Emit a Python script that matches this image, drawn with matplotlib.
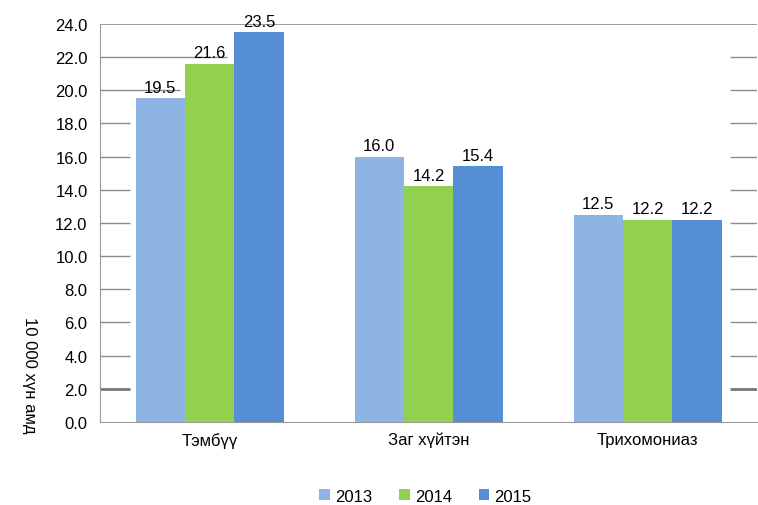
import matplotlib.pyplot as plt
import numpy as np

plt.rcParams["font.family"] = ["Liberation Sans", "DejaVu Sans"]

categories = ["Тэмбүү", "Заг хүйтэн", "Трихомониаз"]
years = ["2013", "2014", "2015"]
values_2013 = [19.5, 16.0, 12.5]
values_2014 = [21.6, 14.2, 12.2]
values_2015 = [23.5, 15.4, 12.2]
y_ticks = np.arange(0, 25, 2)

colors = ["#8EB4E3", "#92D050", "#558ED5"]
series = [values_2013, values_2014, values_2015]

fig = plt.figure(figsize=(7.58, 5.06), dpi=100)
ax = fig.add_axes([0.132, 0.164, 0.867, 0.787])

x = np.arange(len(categories))
width = 0.225
for i, (vals, year, color) in enumerate(zip(series, years, colors)):
    bars = ax.bar(x + (i - 1) * width, vals, width, color=color, label=year, zorder=3)
    for b, v in zip(bars, vals):
        ax.text(b.get_x() + b.get_width() / 2, v + 0.2, f"{v:.1f}",
                ha="center", va="bottom", fontsize=12, color="black", zorder=4)

ax.set_xlim(-0.5, 2.5)
ax.set_ylim(0, 24)
ax.set_yticks(y_ticks)
ax.set_yticklabels([f"{t:.1f}" for t in y_ticks], fontsize=12)
ax.set_xticks(x)
ax.set_xticklabels(categories, fontsize=12)
ax.tick_params(axis="both", length=0)
ax.tick_params(axis="y", pad=9)
ax.tick_params(axis="x", pad=7)

# gridlines only visible in the margins, like the scanned original
trans = ax.get_yaxis_transform()
grid_color = "#8c8c8c"
for t in y_ticks[1:-1]:
    lw = 2.0 if t == 2 else 1.0
    gc = "#777777" if t == 2 else grid_color
    left_end = 0.046
    if t == 20:
        left_end = 0.122
    elif t == 22:
        left_end = 0.193
    ax.hlines(t, 0, left_end, transform=trans, color=gc, lw=lw, zorder=1)
    ax.hlines(t, 0.958, 1.0, transform=trans, color=gc, lw=lw, zorder=1)
ax.hlines(24, 0, 1.0, transform=trans, color=grid_color, lw=1.2, zorder=1)

for side in ["top", "right"]:
    ax.spines[side].set_visible(False)
ax.spines["left"].set_color("#9a9a9a")
ax.spines["bottom"].set_color("#9a9a9a")

ax.set_ylabel("10 000 хүн амд", rotation=270, fontsize=12)
ax.yaxis.set_label_coords(-0.119, 0.12)

ax.legend(loc="upper center", bbox_to_anchor=(0.495, -0.13), ncol=3, frameon=False,
          fontsize=12, handlelength=0.65, handleheight=0.65, handletextpad=0.3,
          columnspacing=1.6)

fig.savefig("out.png", dpi=100)
